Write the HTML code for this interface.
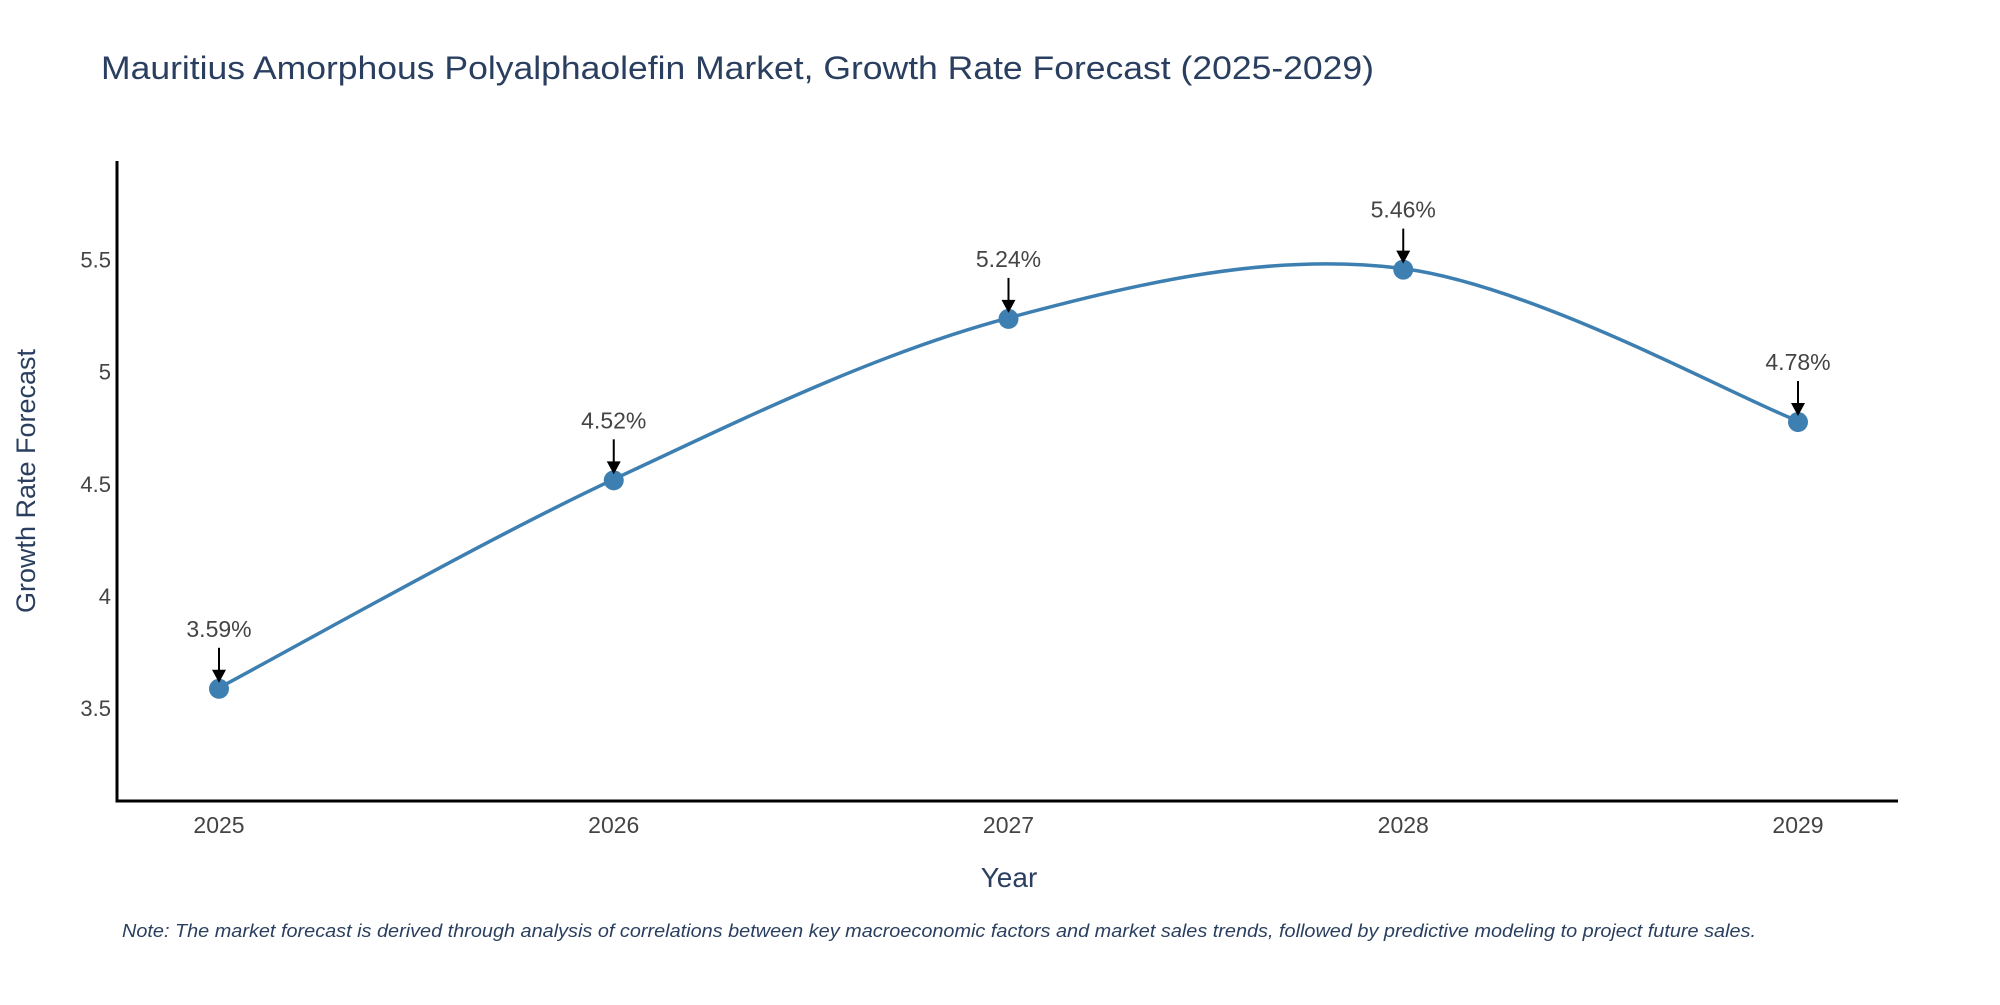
<!DOCTYPE html>
<html><head><meta charset="utf-8"><style>
html,body{margin:0;padding:0;background:#fff;}
svg text{font-family:"Liberation Sans","DejaVu Sans",sans-serif;}
</style></head><body>
<svg id="chart" width="2000" height="1000" xmlns="http://www.w3.org/2000/svg">
<text x="101" y="79" font-size="32" fill="#2a3f5f" textLength="1273" lengthAdjust="spacingAndGlyphs">Mauritius Amorphous Polyalphaolefin Market, Growth Rate Forecast (2025-2029)</text>
<g id="plot"></g>
<text x="1009" y="887" font-size="28" fill="#2a3f5f" text-anchor="middle">Year</text>
<text transform="translate(35,481) rotate(-90)" font-size="27" fill="#2a3f5f" text-anchor="middle">Growth Rate Forecast</text>
<text x="122" y="937" font-size="18" font-style="italic" fill="#2a3f5f" textLength="1634" lengthAdjust="spacingAndGlyphs">Note: The market forecast is derived through analysis of correlations between key macroeconomic factors and market sales trends, followed by predictive modeling to project future sales.</text>
</svg>
<script>
const years = ["2025","2026","2027","2028","2029"];
const rates = [3.59, 4.52, 5.24, 5.46, 4.78];
const labels = ["3.59%","4.52%","5.24%","5.46%","4.78%"];
const yTicks = [3.5, 4, 4.5, 5, 5.5];
const yTickLabels = ["3.5","4","4.5","5","5.5"];

const NS="http://www.w3.org/2000/svg";
const g=document.getElementById('plot');
const L=117,R=1898,T=161,B=801;
const yMin=3.085,yMax=5.94;
const x0=219,x1=1798;
function xs(i){return x0+(x1-x0)*i/(years.length-1);}
function ys(v){return B-(v-yMin)/(yMax-yMin)*(B-T);}
function mk(tag,attrs){const e=document.createElementNS(NS,tag);for(const k in attrs)e.setAttribute(k,attrs[k]);g.appendChild(e);return e;}

let ax=mk('line',{x1:L,y1:T,x2:L,y2:B+1.5,stroke:'#000','stroke-width':3});


ax=mk('line',{x1:L-1.5,y1:B,x2:R,y2:B,stroke:'#000','stroke-width':3});



yTicks.forEach((v,i)=>{
  const t=mk('text',{x:L-6,y:ys(v)+8,'font-size':22,fill:'#444','text-anchor':'end'});
  t.textContent=yTickLabels[i];
  
  
});
years.forEach((y,i)=>{
  const t=mk('text',{x:xs(i),y:833,'font-size':23,fill:'#444','text-anchor':'middle'});
  t.textContent=y;
  
  
});

const P=rates.map((v,i)=>[xs(i),ys(v)]);
let d=`M${P[0][0]},${P[0][1]}`;
const k=1/6;
for(let i=0;i<P.length-1;i++){
  const p0=P[i-1]||P[i],p1=P[i],p2=P[i+1],p3=P[i+2]||P[i+1];
  const c1=[p1[0]+(p2[0]-p0[0])*k,p1[1]+(p2[1]-p0[1])*k];
  const c2=[p2[0]-(p3[0]-p1[0])*k,p2[1]-(p3[1]-p1[1])*k];
  d+=` C${c1[0]},${c1[1]} ${c2[0]},${c2[1]} ${p2[0]},${p2[1]}`;
}
const line=mk('path',{d:d,fill:'none',stroke:'#3d7fb0','stroke-width':3.5});



P.forEach((p,i)=>{
  const c=mk('circle',{cx:p[0],cy:p[1]+1,r:10,fill:'#3d7fb0'});
  
  
  const a=mk('line',{x1:p[0],y1:p[1]-40,x2:p[0],y2:p[1]-14,stroke:'#000','stroke-width':2});
  
  
  const h=mk('polygon',{points:`${p[0]-7},${p[1]-18} ${p[0]+7},${p[1]-18} ${p[0]},${p[1]-5}`,fill:'#000'});
  
  
  const t=mk('text',{x:p[0],y:p[1]-51,'font-size':23,fill:'#444','text-anchor':'middle'});
  t.textContent=labels[i];
  
  
});
</script>
</body></html>
